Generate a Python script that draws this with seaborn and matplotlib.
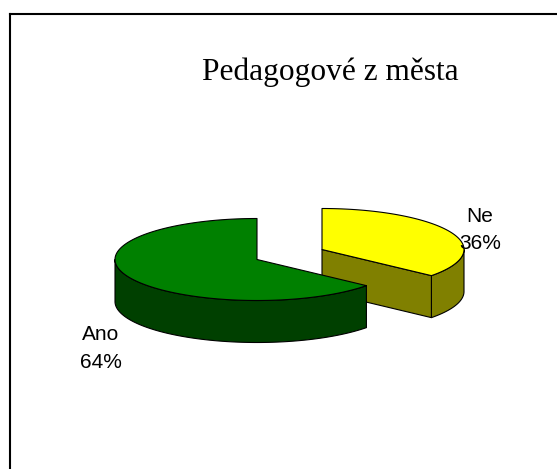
import numpy as np
import matplotlib
matplotlib.use("Agg")
import matplotlib.pyplot as plt
import seaborn as sns

# Data
categories = ["Ne", "Ano"]
values = [36, 64]
title_text = "Pedagogové z města"

# Styles / layout
top_colors = ["#FFFF00", "#008000"]
side_colors = ["#808000", "#004000"]
centers = [(322, 249.5), (257, 259.5)]
label_pos = [(480, 230), (101, 348.5)]
RX, RY, DEPTH = 142, 41, 42

sns.set_theme(style="white")
W, H = 557, 469
fig = plt.figure(figsize=(W / 100, H / 100), dpi=100, facecolor="white")
L, T = 10, 14
ax = fig.add_axes([L / W, 0, (W - L) / W, (H - T) / H])
ax.set_xlim(L, W)
ax.set_ylim(H, T)
ax.set_xticks([])
ax.set_yticks([])
sns.despine(ax=ax, right=True, bottom=True, top=False, left=False)
for s in ("left", "top"):
    ax.spines[s].set_color("black")
    ax.spines[s].set_linewidth(1.5)


def rim(c, a):
    a = np.radians(a)
    return c[0] + RX * np.sin(a), c[1] - RY * np.cos(a)


lw = 0.8
total = sum(values)
start = 0.0
for val, top, side, c in zip(values, top_colors, side_colors, centers):
    end = start + 360.0 * val / total
    arc = np.linspace(start, end, 240)
    x, y = rim(c, arc)
    # visible outer wall (front half of the rim)
    lo, hi = max(start, 90), min(end, 270)
    if hi > lo:
        fa = np.linspace(lo, hi, 160)
        fx, fy = rim(c, fa)
        ax.fill(np.r_[fx, fx[::-1]], np.r_[fy, fy[::-1] + DEPTH],
                facecolor=side, edgecolor="black", lw=lw, joinstyle="round", zorder=2)
    # visible cut wall: the closing radius when it faces the viewer
    if end < 180:
        ex, ey = rim(c, end)
        ax.fill([c[0], ex, ex, c[0]], [c[1], ey, ey + DEPTH, c[1] + DEPTH],
                facecolor=side, edgecolor="black", lw=lw, zorder=2)
    # top surface
    ax.fill(np.r_[c[0], x], np.r_[c[1], y],
            facecolor=top, edgecolor="black", lw=lw, joinstyle="round", zorder=2)
    start = end

for cat, val, (lx, ly) in zip(categories, values, label_pos):
    ax.text(lx, ly, f"{cat}\n{val}%", ha="center", va="center", fontsize=15,
            family="Liberation Sans", color="black", linespacing=1.55, zorder=3)

ax.text(330, 72, title_text, ha="center", va="center", fontsize=22.6,
        family="Liberation Serif", color="black")

fig.savefig("out.png", dpi=100, facecolor="white")
